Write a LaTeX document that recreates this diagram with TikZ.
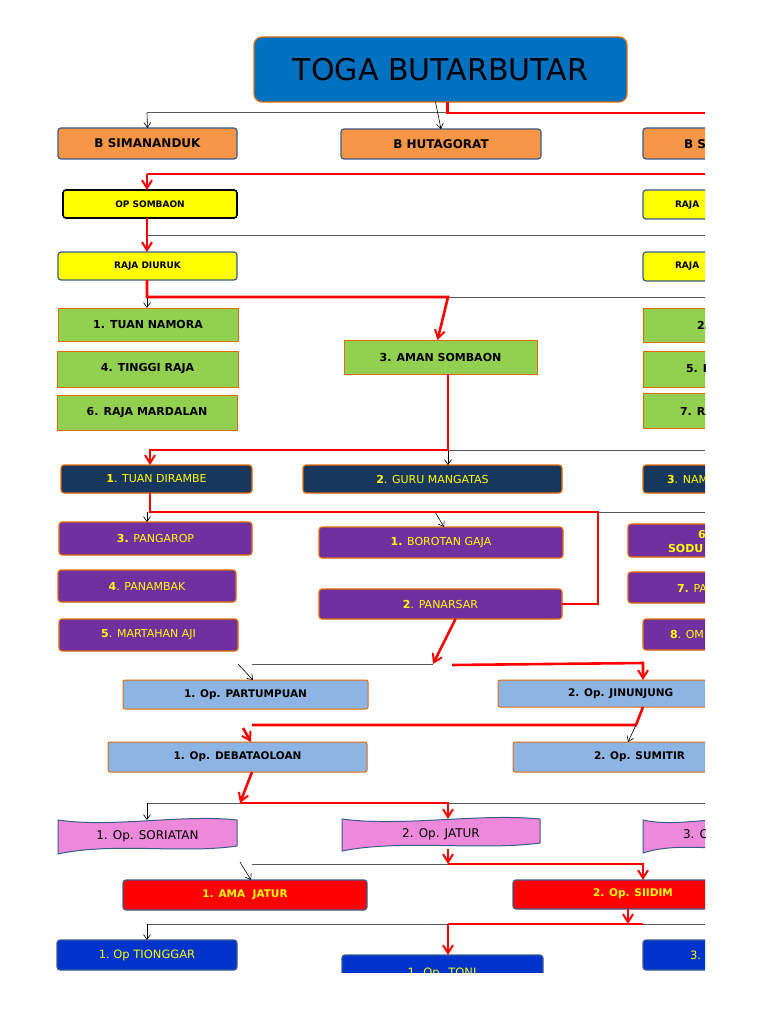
\documentclass[tikz,border=0pt]{standalone}
\usepackage{fontspec}
\setmainfont{DejaVu Sans}
\usetikzlibrary{arrows.meta,calc}
\definecolor{tblue}{HTML}{0070C0}
\definecolor{torange}{HTML}{F79646}
\definecolor{bord}{HTML}{E46C0A}
\definecolor{slate}{HTML}{385D8A}
\definecolor{tgreen}{HTML}{92D050}
\definecolor{navy}{HTML}{17375E}
\definecolor{tpurple}{HTML}{7030A0}
\definecolor{lblue}{HTML}{8DB4E2}
\definecolor{pink}{HTML}{EE88DA}
\definecolor{dblue}{HTML}{0033CC}
\definecolor{tyel}{HTML}{FFFF00}
\newcommand\bx[7]{\node[#2,minimum width={(#5-#3)*1pt},minimum height={(#6-#4)*1pt}] (#1) at ({(#3+#5)/2},{-(#4+#6)/2}) {#7};}
\begin{document}
\begin{tikzpicture}[x=1pt,y=1pt,inner sep=0,outer sep=0,
 base/.style={draw,line width=1.2pt,rounded corners=3pt},
 org/.style={base,fill=torange,draw=slate,font=\bfseries\fontsize{12}{12}\selectfont},
 yel/.style={base,fill=tyel,draw=slate,font=\bfseries\fontsize{9}{9}\selectfont},
 grn/.style={draw=bord,line width=1pt,fill=tgreen,font=\bfseries\fontsize{11}{11}\selectfont},
 nav/.style={base,fill=navy,draw=bord,text=tyel,font=\fontsize{11}{11}\selectfont},
 pur/.style={base,fill=tpurple,draw=bord,text=tyel,font=\fontsize{11}{11}\selectfont},
 lb/.style={draw=bord,line width=1pt,fill=lblue,rounded corners=2pt,font=\bfseries\fontsize{10.5}{10.5}\selectfont},
 pk/.style={font=\fontsize{12}{12}\selectfont},
 rd/.style={base,fill=red,draw=slate,text=tyel,font=\bfseries\fontsize{10.5}{10.5}\selectfont},
 db/.style={base,fill=dblue,draw=slate,text=tyel,font=\fontsize{11.5}{11.5}\selectfont},
 ra/.style={red,line width=2.6pt,-{Straight Barb[length=8pt,width=10pt,line width=2pt]}},
 rl/.style={red,line width=2.6pt},
 ba/.style={black,line width=0.6pt,-{Straight Barb[length=5pt,width=7pt]}},
 gl/.style={gray!70!black,line width=1pt}]
\useasboundingbox (0,0) rectangle (768,-1024);
\begin{scope}
\clip (0,0) rectangle (705,-972);
% boxes
\bx{title}{base,fill=tblue,draw=bord,rounded corners=8pt,font=\fontsize{30}{30}\selectfont}{254}{37}{627}{102}{TOGA BUTARBUTAR}
\bx{simanand}{org}{58}{128}{237}{159}{B SIMANANDUK}
\bx{hutag}{org}{341}{129}{541}{159}{B HUTAGORAT}
\bx{bs}{org}{643}{128}{760}{159}{}
\node[anchor=west,font=\bfseries\fontsize{12}{12}\selectfont] (bst) at (684,-144) {B S};
\bx{opsom}{yel,draw=black,line width=1.6pt}{63}{190}{237}{218}{OP SOMBAON}
\bx{rja}{yel}{643}{190}{760}{219}{}
\node[anchor=west,font=\bfseries\fontsize{9}{9}\selectfont] (rjat) at (675,-205) {RAJA};
\bx{diuruk}{yel}{58}{252}{237}{280}{RAJA DIURUK}
\bx{rjb}{yel}{643}{252}{760}{281}{}
\node[anchor=west,font=\bfseries\fontsize{9}{9}\selectfont] (rjbt) at (675,-266) {RAJA};
\bx{namora}{grn}{58}{308}{238}{341}{1. TUAN NAMORA}
\bx{tinggi}{grn}{57}{351}{238}{387}{4. TINGGI RAJA}
\bx{mardalan}{grn}{57}{395}{237}{430}{6. RAJA MARDALAN}
\bx{aman}{grn}{344}{340}{537}{374}{3. AMAN SOMBAON}
\bx{g2}{grn}{643}{308}{760}{342}{}
\bx{g5}{grn}{643}{351}{760}{387}{}
\bx{g7}{grn}{643}{393}{760}{428}{}
\node[anchor=west,font=\bfseries\fontsize{11}{11}\selectfont] (g2t) at (697,-325) {2.};
\node[anchor=west,font=\bfseries\fontsize{11}{11}\selectfont] (g5t) at (686,-369) {5. I};
\node[anchor=west,font=\bfseries\fontsize{11}{11}\selectfont] (g7t) at (680,-411) {7. RA};
\bx{dirambe}{nav}{61}{465}{252}{493}{\textbf{1}. TUAN DIRAMBE}
\bx{guru}{nav}{303}{465}{562}{493}{\textbf{2}. GURU MANGATAS}
\bx{nam}{nav}{643}{465}{760}{493}{}
\node[anchor=west,text=tyel,font=\fontsize{11}{11}\selectfont] (namt) at (667,-479) {\textbf{3}. NAM};
\bx{pangarop}{pur}{59}{522}{252}{555}{\textbf{3.} PANGAROP}
\bx{panambak}{pur}{58}{570}{236}{602}{\textbf{4}. PANAMBAK}
\bx{martahan}{pur}{59}{619}{238}{651}{\textbf{5}. MARTAHAN AJI}
\bx{borotan}{pur}{319}{527}{563}{558}{\textbf{1.} BOROTAN GAJA}
\bx{panarsar}{pur}{319}{589}{562}{619}{\textbf{2}. PANARSAR}
\bx{p6}{pur}{628}{524}{760}{557}{}
\bx{p7}{pur}{628}{572}{760}{603}{}
\bx{p8}{pur}{643}{619}{760}{650}{}
\node[anchor=west,text=tyel,font=\bfseries\fontsize{11}{11}\selectfont] (p6a) at (698,-534) {6};
\node[anchor=west,text=tyel,font=\bfseries\fontsize{11}{11}\selectfont] (p6b) at (668,-548) {SODU};
\node[anchor=west,text=tyel,font=\fontsize{11}{11}\selectfont] (p7t) at (677,-588) {\textbf{7.} PA};
\node[anchor=west,text=tyel,font=\fontsize{11}{11}\selectfont] (p8t) at (670,-634) {\textbf{8}. OM};
\bx{partum}{lb}{123}{680}{368}{709}{1. Op. PARTUMPUAN}
\bx{jinun}{lb}{498}{680}{760}{707}{}
\node[anchor=west,font=\bfseries\fontsize{10.5}{10.5}\selectfont] (jint) at (568,-694) {2. Op. JINUNJUNG};
\bx{debata}{lb}{108}{742}{367}{772}{1. Op. DEBATAOLOAN}
\bx{sumitir}{lb}{513}{742}{760}{772}{}
\node[anchor=west,font=\bfseries\fontsize{10.5}{10.5}\selectfont] (sumt) at (594,-757) {2. Op. SUMITIR};
% wavy pink
\bx{soriatan}{pk}{58}{820}{237}{852}{}
\bx{jatur}{pk}{342}{819}{540}{849}{}
\bx{pk3}{pk}{643}{820}{760}{851}{}
\foreach \n in {soriatan,jatur,pk3}{
 \fill[pink,draw=slate,line width=1pt] (\n.north west) .. controls ($(\n.north west)!0.3!(\n.north east)+(0,-8)$) and ($(\n.north west)!0.7!(\n.north east)+(0,6)$) .. (\n.north east) -- ([yshift=6]\n.south east) .. controls ($(\n.south west)!0.7!(\n.south east)+(0,-2)$) and ($(\n.south west)!0.3!(\n.south east)+(0,10)$) .. ([yshift=-2]\n.south west) -- cycle;}
\node[pk] (sor2) at (soriatan) {1. Op. SORIATAN};
\node[pk] (jat2) at (jatur) {2. Op. JATUR};
\node[anchor=west,pk] (pk3t) at (683,-835) {3. Op};
\bx{amajatur}{rd}{123}{880}{367}{910}{1. AMA\ \ JATUR}
\bx{siidim}{rd}{513}{880}{760}{909}{}
\node[anchor=west,text=tyel,font=\bfseries\fontsize{10.5}{10.5}\selectfont] (siit) at (593,-894) {2. Op. SIIDIM};
\bx{tionggar}{db}{57}{940}{237}{970}{1.\ Op TIONGGAR}
\bx{toni}{db}{342}{955}{543}{1000}{}
\node[text=tyel,font=\fontsize{11.5}{11.5}\selectfont] (tonit) at (442,-973) {1. Op. TONI};
\bx{db3}{db}{643}{940}{760}{970}{}
\node[anchor=west,text=tyel,font=\fontsize{11.5}{11.5}\selectfont] (db3t) at (690,-955) {3.};
% connectors
\coordinate (a1) at (147,-113); \coordinate (a2) at (705,-113); \coordinate (a3) at (448,-113);
\draw[gl] (a1) -- (a3);
\draw[ba] ([xshift=-5]title.south) -- (hutag.north);
\draw[ba] (a1) -- (simanand.north);
\draw[rl] ([xshift=7]title.south) |- (a2);
\coordinate (b1) at (147,-174); \coordinate (b2) at (705,-174);
\draw[rl] (b2) -- (b1); \draw[ra] (b1) -- (opsom.north -| b1);
\coordinate (c1) at (147,-235); \coordinate (c2) at (705,-235);
\draw[gl] (c1) -- (c2);
\draw[ra] (opsom.south -| c1) -- (diuruk.north -| c1);
\coordinate (d1) at (147,-297); \coordinate (d2) at (448,-297); \coordinate (d3) at (705,-297);
\draw[gl] (d2) -- (d3);
\draw[ba] (d1) -- (namora.north -| d1);
\draw[ra] (diuruk.south -| d1) -- (d1) -- (d2) -- ([xshift=-3]aman.north);
\coordinate (e1) at (150,-450); \coordinate (e2) at (448,-450); \coordinate (e3) at (705,-450);
\draw[gl] (e2) -- (e3);
\draw[ba] (e2) -- (guru.north -| e2);
\draw[ra] (aman.south -| e2) -- (e2) -- (e1) -- (dirambe.north -| e1);
\coordinate (f1) at (150,-512); \coordinate (f2) at (598,-512); \coordinate (f3) at (705,-512);
\coordinate (f4) at (147,-512); \coordinate (f5) at (435,-512);
\draw[gl] (f2) -- (f3);
\draw[ba] (f4) -- (pangarop.north -| f4);
\draw[ba] (f5) -- ([xshift=3]borotan.north);
\draw[rl] (dirambe.south -| f1) -- (f1) -- (f2) |- (panarsar.east);
\coordinate (h1) at (252,-664); \coordinate (h2) at (433,-664); \coordinate (h3) at (643,-663);
\coordinate (h4) at (238,-664); \coordinate (h5) at (452,-665);
\draw[gl] (h1) -- (h2);
\draw[ba] (h4) -- ([xshift=130]partum.north west);
\draw[ra] ([xshift=15]panarsar.south) -- (h2);
\draw[ra] (h5) -- (h3) -- (jinun.north west -| h3);
\coordinate (i1) at (643,-707); \coordinate (i2) at (636,-725); \coordinate (i3) at (252,-725);
\coordinate (i4) at (243,-728); \coordinate (i5) at (628,-742);
\draw[rl] (i1) -- (i2) -- (i3);
\draw[ra] (i4) -- ([xshift=143]debata.north west);
\draw[ba] (i2) -- (i5);
\coordinate (j1) at (240,-803); \coordinate (j2) at (448,-803); \coordinate (j0) at (147,-803); \coordinate (j3) at (705,-803);
\draw[gl] (j0) -- (j3);
\draw[ba] (j0) -- (soriatan.north -| j0);
\draw[ra] ([xshift=144]debata.south west) -- (j1);
\draw[ra] (j1) -- (j2) -- (jatur.north -| j2);
\coordinate (k1) at (252,-864); \coordinate (k2) at (448,-864); \coordinate (k3) at (643,-864);
\coordinate (k4) at (240,-862);
\draw[gl] (k1) -- (k2);
\draw[ba] (k4) -- ([xshift=128]amajatur.north west);
\draw[ra] (jatur.south -| k2) -- (k2);
\draw[ra] (k2) -- (k3) -- (siidim.north -| k3);
\coordinate (l0) at (147,-924); \coordinate (l1) at (448,-924); \coordinate (l2) at (628,-924); \coordinate (l3) at (705,-924);
\coordinate (l4) at (643,-924);
\draw[gl] (l0) -- (l3);
\draw[ba] (l0) -- (tionggar.north -| l0);
\draw[ra] (siidim.south -| l2) -- (l2);
\draw[rl] (l4) -- (l1);
\draw[ra] (l1) -- (toni.north -| l1);
\end{scope}
\end{tikzpicture}
\end{document}
